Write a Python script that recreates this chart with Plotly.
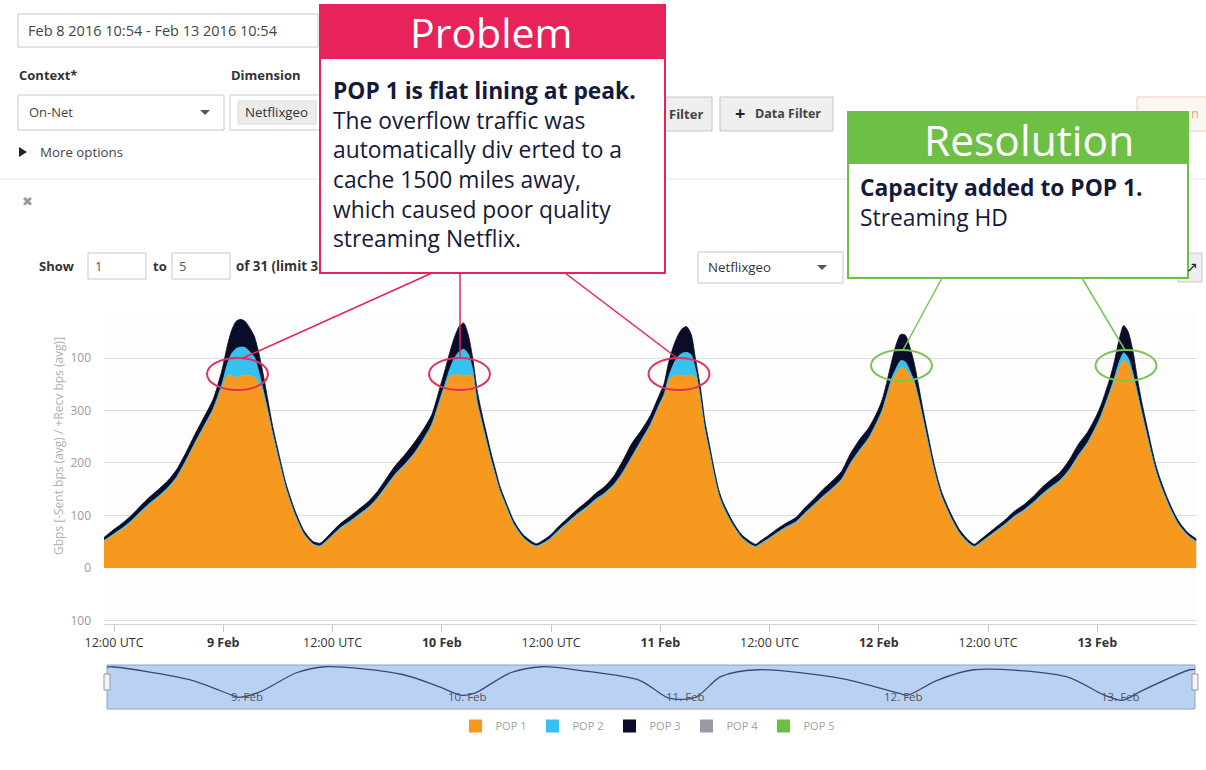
import plotly.graph_objects as go
from datetime import datetime, timedelta

W, H = 1206, 770
START = datetime(2016, 2, 8, 10, 54)
SPAN_H = 120

# ---------------- data ----------------
hours = [0, 1, 2, 3, 4, 5, 6, 7, 8, 9, 10, 11, 12, 13, 13.5, 14, 14.5, 15, 15.5, 16, 16.5, 17, 17.5, 18, 18.5, 19, 19.5, 20, 21, 22, 23, 23.7,
         24, 25, 26, 27, 28, 29, 30, 31, 32, 33, 34, 35, 36, 37, 37.5, 38, 38.5, 39, 39.5, 40, 40.5, 41, 41.5, 42, 42.5, 43, 43.5, 44, 45, 46, 47, 47.5,
         48, 49, 50, 51, 52, 53, 54, 55, 56, 57, 58, 59, 60, 61, 61.5, 62, 62.5, 63, 63.5, 64, 64.5, 65, 65.5, 66, 66.5, 67, 67.5, 68, 69, 70, 71, 71.6,
         72, 73, 74, 75, 76, 77, 78, 79, 80, 81, 82, 83, 84, 85, 85.5, 86, 86.5, 87, 87.5, 88, 88.5, 89, 89.5, 90, 90.5, 91, 91.5, 92, 93, 94, 95, 95.6,
         96, 97, 98, 99, 100, 101, 102, 103, 104, 105, 106, 107, 108, 109, 109.5, 110, 110.5, 111, 111.5, 112, 112.5, 113, 113.5, 114, 114.5, 115, 115.5, 116, 117, 118, 119, 120]

pop1 = [50, 62, 73, 87, 104, 120, 134, 150, 171, 202, 236, 268, 300, 345, 366, 368, 362, 366, 368, 367, 364, 352, 330, 295, 255, 219, 183, 149, 99, 62, 43, 40,
        43, 59, 74, 86, 99, 112, 130, 153, 176, 194, 214, 240, 270, 322, 345, 366, 368, 368, 366, 368, 366, 312, 275, 240, 205, 174, 144, 122, 82, 57, 43, 40,
        43, 54, 70, 85, 100, 113, 128, 140, 156, 180, 210, 240, 270, 308, 326, 355, 366, 368, 367, 366, 368, 364, 322, 262, 220, 177, 139, 115, 82, 57, 43, 39,
        43, 54, 66, 76, 85, 102, 118, 134, 149, 166, 197, 222, 245, 278, 298, 326, 352, 370, 382, 380, 366, 350, 318, 278, 238, 198, 163, 134, 95, 64, 45, 39,
        43, 56, 69, 81, 96, 107, 121, 137, 151, 164, 184, 211, 235, 268, 286, 309, 332, 355, 380, 396, 388, 364, 330, 292, 256, 219, 185, 158, 115, 82, 61, 48]

pop2 = [2, 2, 3, 3, 3, 3, 3, 3, 3, 3, 3, 3, 4, 8, 20, 40, 56, 55, 52, 45, 38, 22, 8, 5, 4, 3, 3, 3, 2, 2, 2, 2,
        2, 2, 3, 3, 3, 3, 3, 3, 3, 3, 3, 3, 4, 5, 8, 14, 32, 44, 51, 40, 12, 5, 4, 3, 3, 3, 3, 3, 2, 2, 2, 2,
        2, 2, 3, 3, 3, 3, 3, 3, 3, 3, 3, 3, 3, 4, 4, 8, 20, 34, 42, 45, 38, 12, 5, 4, 3, 3, 3, 3, 2, 2, 2, 2,
        2, 2, 2, 3, 3, 3, 3, 3, 3, 3, 3, 3, 3, 4, 4, 5, 8, 10, 13, 13, 10, 6, 4, 4, 3, 3, 3, 3, 2, 2, 2, 2,
        2, 2, 2, 3, 3, 3, 3, 3, 3, 3, 3, 3, 3, 3, 4, 4, 5, 8, 12, 14, 12, 8, 5, 4, 3, 3, 3, 3, 3, 2, 2, 2]

pop3 = [6, 8, 9, 10, 11, 12, 13, 13, 14, 15, 16, 17, 18, 27, 34, 44, 52, 53, 50, 46, 40, 36, 30, 20, 13, 11, 9, 8, 7, 6, 5, 5,
        5, 7, 8, 9, 10, 11, 12, 14, 16, 18, 20, 19, 18, 23, 27, 32, 40, 48, 50, 37, 22, 20, 16, 14, 12, 10, 8, 7, 6, 5, 5, 4,
        5, 6, 7, 8, 9, 10, 11, 12, 16, 22, 25, 19, 17, 18, 20, 27, 34, 40, 47, 49, 39, 19, 18, 14, 12, 10, 8, 7, 6, 5, 5, 4,
        5, 6, 7, 7, 8, 10, 11, 13, 14, 15, 18, 20, 19, 18, 20, 24, 32, 45, 50, 51, 46, 34, 23, 16, 14, 11, 9, 8, 7, 6, 5, 4,
        5, 6, 7, 8, 9, 10, 11, 13, 14, 15, 18, 21, 20, 19, 20, 22, 25, 32, 43, 52, 50, 43, 27, 19, 16, 13, 10, 9, 7, 6, 5, 5]

nav_hours = [0, 0.5, 9.1, 13.8, 14.6, 17, 20.9, 24, 32.6, 36.6, 39, 40.5, 44.5, 48, 52.3, 58.8, 62, 64.9, 67.7,
             71.8, 81.2, 87.4, 88.3, 91.5, 95.6, 105.8, 110, 112, 114, 119.4, 120]
nav_vals = [97, 98, 68, 32, 27, 41, 84, 98, 80, 52, 32, 36, 84, 98, 89, 66, 25, 27, 75,
            91, 70, 36, 32, 66, 91, 75, 32, 20, 41, 91, 92]

series_names = ["POP 1", "POP 2", "POP 3", "POP 4", "POP 5"]
series_colors = ["#f7991f", "#36c1f0", "#0a0d2a", "#9a9aa6", "#6cbf45"]

y_tickvals = [-100, 0, 100, 200, 300, 400]
y_ticktext = ["100", "0", "100", "200", "300", "100"]

x_tick_times = ["2016-02-08 12:00", "2016-02-09 00:00", "2016-02-09 12:00", "2016-02-10 00:00",
                "2016-02-10 12:00", "2016-02-11 00:00", "2016-02-11 12:00", "2016-02-12 00:00",
                "2016-02-12 12:00", "2016-02-13 00:00"]
x_tick_text = ["12:00 UTC", "<b>9 Feb</b>", "12:00 UTC", "<b>10 Feb</b>", "12:00 UTC", "<b>11 Feb</b>",
               "12:00 UTC", "<b>12 Feb</b>", "12:00 UTC", "<b>13 Feb</b>"]

nav_label_times = ["2016-02-09", "2016-02-10", "2016-02-11", "2016-02-12", "2016-02-13"]
nav_label_text = ["9. Feb", "10. Feb", "11. Feb", "12. Feb", "13. Feb"]

problem_lines = ["<b>POP 1 is flat lining at peak.</b>", "The overflow traffic was",
                 "automatically div erted to a", "cache 1500 miles away,",
                 "which caused poor quality", "streaming Netflix."]
resolution_lines = ["<b>Capacity added to POP 1.</b>", "Streaming HD"]

# ---------------- helpers ----------------
def X(px):
    return px / W

def Y(py):
    return 1 - py / H

times = [START + timedelta(hours=h) for h in hours]
nav_times = [START + timedelta(hours=h) for h in nav_hours]
END = START + timedelta(hours=SPAN_H)

FONT = "Open Sans"
TXT = "#141a38"

fig = go.Figure()

for name, vals, color in zip(series_names[:3], [pop1, pop2, pop3], series_colors[:3]):
    fig.add_trace(go.Scatter(
        x=times, y=vals, name=name, stackgroup="pops", mode="lines",
        line=dict(width=0.8, color=color, shape="spline", smoothing=0.7),
        fillcolor=color, showlegend=False, hoverinfo="skip"))

for name, color in zip(series_names, series_colors):
    fig.add_trace(go.Scatter(x=[None], y=[None], mode="markers", name=name,
                             marker=dict(symbol="square", size=13, color=color)))

fig.add_trace(go.Scatter(x=nav_times, y=nav_vals, xaxis="x2", yaxis="y2", mode="lines",
                         line=dict(color="#3a4a78", width=1.3, shape="spline", smoothing=0.8),
                         showlegend=False, hoverinfo="skip"))

shapes = []
annotations = []

def rect(x0, y0, x1, y1, fill="white", line="#c8c8c8", lw=1, layer="above"):
    shapes.append(dict(type="rect", xref="paper", yref="paper", x0=X(x0), x1=X(x1), y0=Y(y1), y1=Y(y0),
                       fillcolor=fill, line=dict(color=line, width=lw), layer=layer))

def line(x0, y0, x1, y1, color, lw=1, layer="above"):
    shapes.append(dict(type="line", xref="paper", yref="paper", x0=X(x0), x1=X(x1), y0=Y(y0), y1=Y(y1),
                       line=dict(color=color, width=lw), layer=layer))

def tri(points, color):
    path = "M " + " L ".join(f"{X(a)},{Y(b)}" for a, b in points) + " Z"
    shapes.append(dict(type="path", xref="paper", yref="paper", path=path, fillcolor=color,
                       line=dict(width=0, color=color), layer="above"))

def text(x, y, t, size=13, color="#444", anchor="left", family=FONT, yanchor="middle", **kw):
    annotations.append(dict(x=X(x), y=Y(y), xref="paper", yref="paper", text=t, showarrow=False,
                            xanchor=anchor, yanchor=yanchor, font=dict(size=size, color=color, family=family), **kw))

# ---------- UI controls ----------
rect(18, 14, 318, 47)
text(26, 31, "Feb 8 2016 10:54 - Feb 13 2016 10:54", 14.5, "#444")
text(17, 75, "<b>Context*</b>", 13, "#333")
text(229, 75, "<b>Dimension</b>", 13, "#333")
rect(18, 95, 224, 130)
text(27, 112, "On-Net", 13, "#444")
tri([(200, 110), (210, 110), (205, 115)], "#555")
rect(230, 95, 345, 130)
rect(238, 101, 316, 124, fill="#ececec", line="#dadada")
text(243, 112, "Netflixgeo", 13.3, "#333")
tri([(19, 147), (19, 157), (27, 152)], "#222")
text(38, 152, "More options", 13.3, "#444")
line(0, 179, W, 179, "#e6e6e6", 1)
text(27, 202, "✖", 13, "#9a9a9a", anchor="center", family="DejaVu Sans")
text(37, 266, "<b>Show</b>", 13, "#333")
rect(88, 253, 146, 279)
text(93, 266, "1", 13, "#555")
text(151, 266, "<b>to</b>", 13, "#333")
rect(172, 253, 230, 279)
text(177, 266, "5", 13, "#555")
text(234, 266, "<b>of 31 (limit 3</b>", 13.3, "#333")
rect(600, 97, 712, 131, fill="#efefef", line="#c4c4c4")
text(667, 114, "<b>Filter</b>", 13, "#444")
rect(720, 97, 833, 131, fill="#efefef", line="#c4c4c4")
text(740, 113, "<b>+</b>", 18, "#222", anchor="center")
text(753, 114, "<b>Data Filter</b>", 12.5, "#444")
rect(1137, 97, 1215, 131, fill="#fdf7f2", line="#f0cdb4")
text(1189, 113, "n", 13, "#eaa57a")
rect(698, 252, 843, 283)
text(706, 267, "Netflixgeo", 13.3, "#333")
tri([(817, 265), (827, 265), (822, 270)], "#555")
rect(1178, 253, 1202, 282, fill="#eeeeee", line="#c8c8c8")
text(1192, 267, "↗", 14, "#222", anchor="center", family="DejaVu Sans")

# ---------- navigator ----------
rect(107, 665, 1195, 709, fill="#b9d1f3", line="#8da2c6", lw=1, layer="below")
rect(104, 674, 110, 690, fill="#f3f3f3", line="#999999")
rect(1192, 674, 1198, 690, fill="#f3f3f3", line="#999999")
for t, lab in zip(nav_label_times, nav_label_text):
    annotations.append(dict(x=t, y=30, xref="x2", yref="y2", text=lab, showarrow=False, xanchor="left",
                            yanchor="middle", xshift=3, font=dict(size=11.5, color="#555", family=FONT)))

# ---------- problem / resolution callouts ----------
RED = "#e8225a"
GREEN = "#6dbf46"
rect(320, 5, 665, 273, fill="white", line=RED, lw=2)
rect(320, 5, 665, 58, fill=RED, line=RED, lw=2)
text(492, 32, "Problem", 41, "white", anchor="center")
text(331, 164.5, "<br>".join(problem_lines), 22.8, TXT, align="left")

rect(848, 112, 1188, 278, fill="white", line=GREEN, lw=2)
rect(848, 112, 1188, 163, fill=GREEN, line=GREEN, lw=2)
text(1029, 139, "Resolution", 42.5, "white", anchor="center")
text(858, 202.5, "<br>".join(resolution_lines), 22.8, TXT, align="left")

line(432, 273, 243, 358, RED, 1.5)
line(460, 273, 460, 358, RED, 1.5)
line(565, 273, 677, 358, RED, 1.5)
line(942, 278, 903, 350, "#7cc451", 1.5)
line(1082, 278, 1125, 350, "#7cc451", 1.5)
for cx, cy in [(237.5, 374), (459.5, 374), (679, 374)]:
    shapes.append(dict(type="circle", xref="paper", yref="paper", x0=X(cx - 30.5), x1=X(cx + 30.5),
                       y0=Y(cy + 16), y1=Y(cy - 16), line=dict(color="#e0305c", width=2), layer="above"))
for cx, cy in [(901.5, 365.5), (1126, 365.5)]:
    shapes.append(dict(type="circle", xref="paper", yref="paper", x0=X(cx - 30.5), x1=X(cx + 30.5),
                       y0=Y(cy + 15.5), y1=Y(cy - 15.5), line=dict(color="#7cc451", width=2), layer="above"))

# y-axis title
annotations.append(dict(x=X(58), y=Y(446), xref="paper", yref="paper", showarrow=False, textangle=-90,
                        text="Gbps [-Sent bps (avg) / +Recv bps (avg)]", xanchor="center", yanchor="middle",
                        font=dict(size=12, color="#b0b0b0", family=FONT)))

fig.update_layout(
    width=W, height=H, margin=dict(l=0, r=0, t=0, b=0, autoexpand=False),
    paper_bgcolor="white", plot_bgcolor="#fdfdfd",
    font=dict(family=FONT, color="#444"),
    shapes=shapes, annotations=annotations,
    legend=dict(orientation="h", x=X(648), y=Y(726), xanchor="center", yanchor="middle",
                traceorder="normal", font=dict(size=11, color="#a0a0a0"), itemwidth=30,
                entrywidth=32, entrywidthmode="pixels", bgcolor="rgba(0,0,0,0)"),
    xaxis=dict(type="date", domain=[X(104), X(1196.5)], range=[START, END], anchor="y", automargin=False,
               tickmode="array", tickvals=x_tick_times, ticktext=x_tick_text,
               ticks="outside", ticklen=7, tickcolor="#c8c8c8", showline=True, linecolor="#d4d4d4",
               showgrid=False, zeroline=False, tickfont=dict(size=12.5, color="#333")),
    yaxis=dict(domain=[Y(624), Y(313)], range=[-107, 486], anchor="x", automargin=False, tickmode="array",
               tickvals=y_tickvals, ticktext=y_ticktext, showgrid=True, gridcolor="#dcdce2",
               zeroline=False, showline=False, tickfont=dict(size=12, color="#9a9a9a"),
               ticklabelstandoff=12),
    xaxis2=dict(type="date", domain=[X(107), X(1195)], range=[START, END], anchor="y2", automargin=False,
                showticklabels=False, showgrid=False, zeroline=False, showline=False, ticks=""),
    yaxis2=dict(domain=[Y(709), Y(665)], range=[0, 102], anchor="x2", visible=False, automargin=False),
)

fig.write_html("out.html", config={"displayModeBar": False},
               post_script="document.documentElement.style.margin='0';document.body.style.margin='0';"
                           "document.documentElement.style.overflow='hidden';document.body.style.overflow='hidden';")
